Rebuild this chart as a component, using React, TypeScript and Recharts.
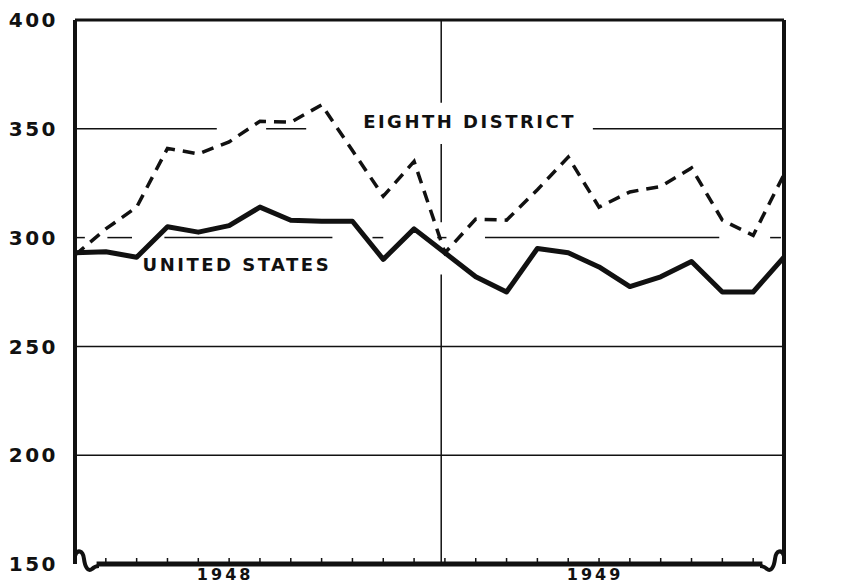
import { LineChart, Line, XAxis, YAxis, ReferenceLine, ReferenceDot } from "recharts";

// monthly index, Jan 1948 .. Dec 1949
const years = ["1948", "1949"];
const monthNames = ["Jan", "Feb", "Mar", "Apr", "May", "Jun", "Jul", "Aug", "Sep", "Oct", "Nov", "Dec"];
const unitedStates = [293, 293.5, 291, 305, 302.5, 305.5, 314, 308, 307.5, 307.5, 290, 304, 293, 282, 275, 295, 293, 286.5, 277.5, 282, 289, 275, 275, 291];
const eighthDistrict = [292, 304, 314, 341, 338.5, 344, 353.5, 353, 361, 340, 319, 335, 293, 308.5, 308, 322, 337, 314, 321, 323.5, 332, 308, 301, 329];
const yTicks = [150, 200, 250, 300, 350, 400];
const yearLabelAt: Record<number, string> = { 5: years[0], 17: years[1] };

const data = unitedStates.map((us, i) => ({
  i,
  month: `${monthNames[i % 12]} ${years[Math.floor(i / 12)]}`,
  us,
  ed: eighthDistrict[i],
}));
const monthTicks = data.map((d) => d.i).filter((i) => i > 0 && i < 23);

const FONT = "'DejaVu Sans', sans-serif";
const INK = "#111";

function MonthTick(props: any) {
  const { x, y, payload } = props;
  const year = yearLabelAt[payload.value];
  return (
    <g>
      <line x1={x} y1={y} x2={x} y2={y - 6} stroke={INK} strokeWidth={1.5} />
      {year && (
        <text x={x - 4} y={y + 16} textAnchor="middle" fontFamily={FONT} fontWeight="bold" fontSize={16} letterSpacing={3} fill={INK}>
          {year}
        </text>
      )}
    </g>
  );
}

// axis break squiggles in the bottom corners
const BreakLeft = (p: any) => (
  <path d={`M ${p.cx} ${p.cy - 8} C ${p.cx + 2} ${p.cy - 15}, ${p.cx + 8} ${p.cy - 14}, ${p.cx + 9} ${p.cy - 5} C ${p.cx + 10} ${p.cy + 3}, ${p.cx + 13} ${p.cy + 8}, ${p.cx + 17} ${p.cy + 5} C ${p.cx + 19} ${p.cy + 3}, ${p.cx + 21} ${p.cy + 2}, ${p.cx + 24} ${p.cy + 2}`} fill="none" stroke={INK} strokeWidth={4} />
);
const BreakRight = (p: any) => (
  <path d={`M ${p.cx} ${p.cy - 8} C ${p.cx - 2} ${p.cy - 15}, ${p.cx - 8} ${p.cy - 14}, ${p.cx - 9} ${p.cy - 5} C ${p.cx - 10} ${p.cy + 3}, ${p.cx - 13} ${p.cy + 8}, ${p.cx - 17} ${p.cy + 5} C ${p.cx - 19} ${p.cy + 3}, ${p.cx - 21} ${p.cy + 2}, ${p.cx - 24} ${p.cy + 2}`} fill="none" stroke={INK} strokeWidth={4} />
);

const labelText = (text: string) => (p: any) => (
  <text x={p.cx} y={p.cy} textAnchor="middle" dominantBaseline="central" fontFamily={FONT} fontWeight="bold" fontSize={18} letterSpacing={2.5} fill={INK}>
    {text}
  </text>
);

const grid = { stroke: INK, strokeWidth: 1.5 };

export default function App() {
  const tickStyle = { fill: INK, fontFamily: FONT, fontWeight: "bold", fontSize: 20, letterSpacing: 2.5 } as any;
  return (
    <div style={{ position: "absolute", left: 0, top: 0, background: "#fff" }}>
      <LineChart width={848} height={584} data={data} margin={{ top: 20, right: 0, bottom: 0, left: 0 }}>
        <XAxis dataKey="i" type="number" domain={[0, 23]} ticks={monthTicks} interval={0} height={20} axisLine={false} tickLine={false} tickSize={0} tickMargin={0} tick={<MonthTick />} />
        <YAxis yAxisId="left" orientation="left" domain={[150, 400]} ticks={yTicks} width={75} tickLine={false} tickMargin={11} axisLine={{ stroke: INK, strokeWidth: 4 }} tick={tickStyle} />
        <YAxis yAxisId="right" orientation="right" domain={[150, 400]} ticks={yTicks} width={64} tickLine={false} tickMargin={6} axisLine={{ stroke: INK, strokeWidth: 4 }} tick={tickStyle} />

        <ReferenceLine yAxisId="left" y={400} stroke={INK} strokeWidth={3} />
        <ReferenceLine yAxisId="left" y={250} {...grid} />
        <ReferenceLine yAxisId="left" y={200} {...grid} />
        <ReferenceLine yAxisId="left" segment={[{ x: 0, y: 350 }, { x: 4.6, y: 350 }]} {...grid} />
        <ReferenceLine yAxisId="left" segment={[{ x: 6.2, y: 350 }, { x: 7.5, y: 350 }]} {...grid} />
        <ReferenceLine yAxisId="left" segment={[{ x: 16.8, y: 350 }, { x: 23, y: 350 }]} {...grid} />
        <ReferenceLine yAxisId="left" segment={[{ x: 0.06, y: 300 }, { x: 0.32, y: 300 }]} {...grid} />
        <ReferenceLine yAxisId="left" segment={[{ x: 1.05, y: 300 }, { x: 1.85, y: 300 }]} {...grid} />
        <ReferenceLine yAxisId="left" segment={[{ x: 2.9, y: 300 }, { x: 8.35, y: 300 }]} {...grid} />
        <ReferenceLine yAxisId="left" segment={[{ x: 9.65, y: 300 }, { x: 10, y: 300 }]} {...grid} />
        <ReferenceLine yAxisId="left" segment={[{ x: 11.75, y: 300 }, { x: 12.05, y: 300 }]} {...grid} />
        <ReferenceLine yAxisId="left" segment={[{ x: 13.3, y: 300 }, { x: 20.9, y: 300 }]} {...grid} />
        <ReferenceLine yAxisId="left" segment={[{ x: 22.55, y: 300 }, { x: 22.9, y: 300 }]} {...grid} />

        <ReferenceLine yAxisId="left" segment={[{ x: 11.88, y: 400 }, { x: 11.88, y: 362 }]} {...grid} />
        <ReferenceLine yAxisId="left" segment={[{ x: 11.88, y: 343 }, { x: 11.88, y: 307 }]} {...grid} />
        <ReferenceLine yAxisId="left" segment={[{ x: 11.88, y: 283 }, { x: 11.88, y: 150 }]} {...grid} />

        <ReferenceLine yAxisId="left" segment={[{ x: 0.7, y: 150 }, { x: 22.3, y: 150 }]} stroke={INK} strokeWidth={5} />
        <ReferenceDot yAxisId="left" x={0} y={150} r={0} shape={BreakLeft} />
        <ReferenceDot yAxisId="left" x={23} y={150} r={0} shape={BreakRight} />

        <Line yAxisId="left" type="linear" dataKey="ed" stroke={INK} strokeWidth={3.5} strokeDasharray="12 8" dot={false} isAnimationActive={false} />
        <Line yAxisId="left" type="linear" dataKey="us" stroke={INK} strokeWidth={5} strokeLinejoin="round" dot={false} isAnimationActive={false} />

        <ReferenceDot yAxisId="left" x={12.8} y={353.3} r={0} shape={labelText("EIGHTH  DISTRICT")} />
        <ReferenceDot yAxisId="left" x={5.25} y={287.8} r={0} shape={labelText("UNITED  STATES")} />
      </LineChart>
    </div>
  );
}
